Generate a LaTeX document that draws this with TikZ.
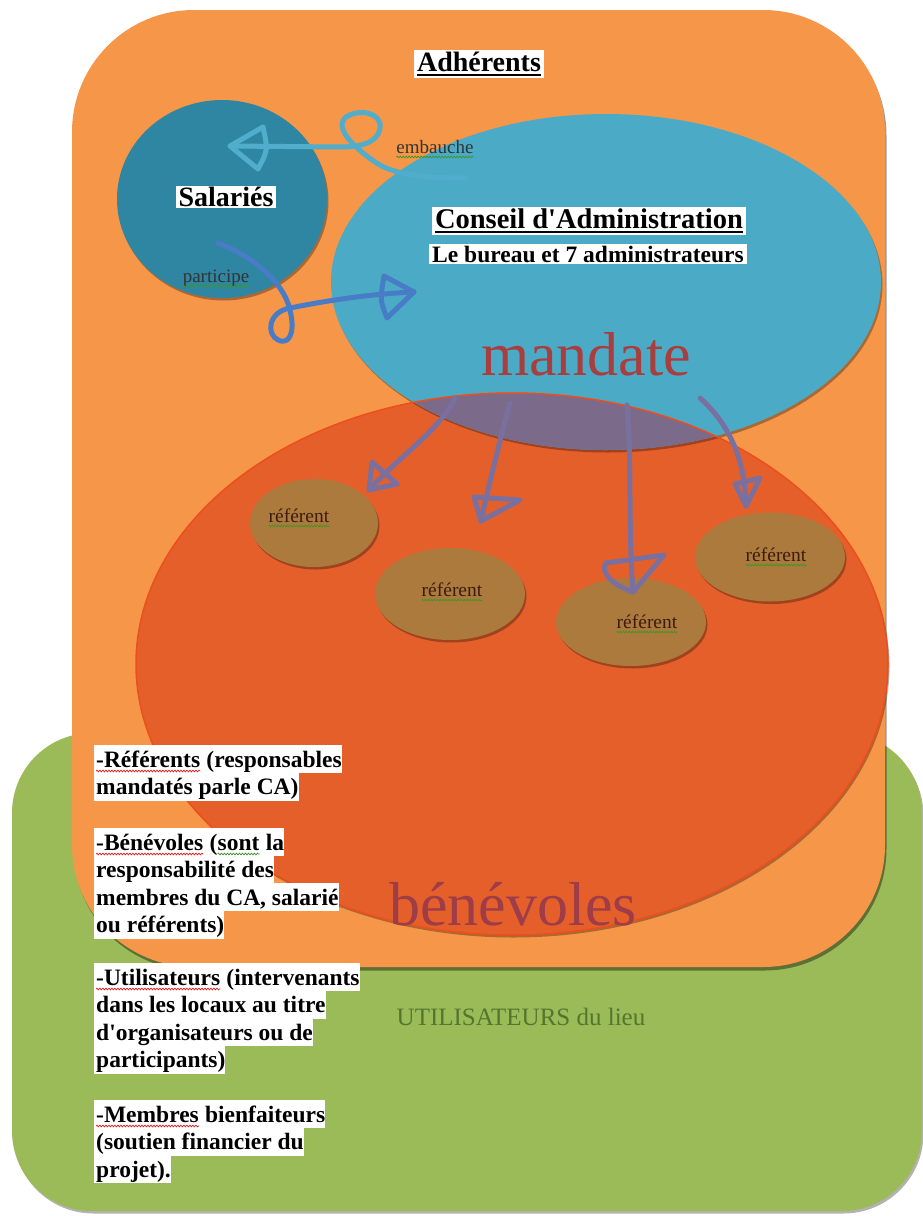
\documentclass[tikz,border=0pt]{standalone}
\usepackage{fontspec}
\setmainfont{Liberation Serif}[Ligatures=TeXOff]
\usetikzlibrary{shapes.geometric,shadows,decorations.pathmorphing}
\definecolor{orangebg}{RGB}{246,150,72}
\definecolor{greenbg}{RGB}{155,187,89}
\definecolor{cablue}{RGB}{75,171,199}
\definecolor{salteal}{RGB}{46,134,162}
\definecolor{benred}{RGB}{229,95,42}
\definecolor{benedge}{RGB}{236,78,28}
\definecolor{overlapc}{RGB}{124,106,138}
\definecolor{refbrown}{RGB}{172,122,60}
\definecolor{mandarrow}{RGB}{122,112,160}
\definecolor{embarrow}{RGB}{80,174,204}
\definecolor{partarrow}{RGB}{72,124,198}
\definecolor{mandtext}{RGB}{168,62,62}
\definecolor{bentext}{RGB}{158,60,72}
\definecolor{usertext}{RGB}{84,118,44}
\definecolor{reftext}{RGB}{60,28,15}
\definecolor{spellred}{RGB}{225,30,30}
\definecolor{spellgreen}{RGB}{60,150,40}
\newsavebox\myulbox
\newcommand\thickul[1]{\sbox\myulbox{#1}\rlap{\usebox\myulbox}\rule[-5pt]{\wd\myulbox}{2.6pt}}
\begin{document}
\begin{tikzpicture}[x=1pt,y=-1pt,
  every node/.style={inner sep=0pt},
  softshadow/.style={drop shadow={shadow xshift=1.5pt,shadow yshift=-2.5pt,opacity=0.3,fill=black}},
  whitebox/.style={fill=white,text=black,inner xsep=3pt,inner ysep=1.5pt},
  listline/.style={fill=white,anchor=base west,inner xsep=0pt,text height=22pt,text depth=6pt,font=\fontsize{23.5}{27.5}\selectfont\bfseries},
  refnode/.style={ellipse,fill=refbrown,minimum width=150pt,minimum height=90pt,softshadow},
  reftxt/.style={anchor=base,font=\fontsize{19.5}{22}\selectfont,text=reftext},
  handarrow/.style={line width=5pt,line cap=round,line join=round},
  wave/.style={line width=0.7pt,decorate,decoration={snake,amplitude=0.9pt,segment length=3pt}},
  wavered/.style={wave,draw=spellred},
  wavegreen/.style={wave,draw=spellgreen},
]
\useasboundingbox (0,0) rectangle (923,1216);
\fill[white] (0,0) rectangle (923,1216);

% background panels
\fill[greenbg, rounded corners=80pt, softshadow] (12,733) rectangle (922,1211);
\fill[orangebg, rounded corners=122pt, drop shadow={shadow xshift=1.5pt,shadow yshift=-3.5pt,opacity=0.4,fill=black}] (72,10) rectangle (885,967);

% big ellipses
\node[ellipse, fill=benred, minimum width=752pt, minimum height=542pt, softshadow] (ben) at (512,664) {};
\node[ellipse, fill=cablue, minimum width=550pt, minimum height=336pt, softshadow] (ca) at (606,282) {};
\begin{scope}
  \clip (ben.center) ellipse [x radius=376, y radius=271];
  \fill[overlapc] (ca.center) ellipse [x radius=275, y radius=168];
\end{scope}
\draw[benedge, line width=1.5pt] (ben.center) ellipse [x radius=376, y radius=271];

\node[ellipse, fill=salteal, minimum width=210pt, minimum height=198pt, softshadow] (sal) at (222,199) {};

% referent ellipses
\node[refnode, minimum width=128pt, minimum height=88pt] (ref1) at (314,523) {};
\node[refnode, minimum height=92pt] (ref2) at (450,594) {};
\node[refnode, minimum height=88pt] (ref3) at (631,622) {};
\node[refnode, minimum height=89pt] (ref4) at (770,557) {};

% embauche arrow
\coordinate (embS) at (466,178);
\coordinate (embT) at (230,146);
\draw[handarrow, embarrow] (embS) .. controls (430,178) and (395,176) .. (375,162) .. controls (355,148) and (333,128) .. (346,117) .. controls (360,108) and (382,113) .. (380,128) .. controls (378,143) and (360,147) .. (340,147) -- (embT);
\draw[handarrow, embarrow] (263,127) -- (embT) -- (258,169) .. controls (268,150) .. (263,127);

% participe arrow
\coordinate (partS) at (218,243);
\coordinate (partT) at (414,292);
\draw[handarrow, partarrow] (partS) .. controls (250,255) and (283,280) .. (290,310) .. controls (296,335) and (288,345) .. (278,340) .. controls (266,334) and (268,312) .. (290,308) .. controls (330,300) and (370,294) .. (partT);
\draw[handarrow, partarrow] (384,276) -- (partT) -- (387,318) .. controls (380,300) .. (384,276);

% mandate arrows
\coordinate (mS1) at (455,398);
\coordinate (mT1) at (369,490);
\draw[handarrow, mandarrow] (mS1) .. controls (440,430) and (395,460) .. (mT1);
\draw[handarrow, mandarrow] (372,462) -- (mT1) -- (397,484) -- cycle;
\coordinate (mS2) at (510,403);
\coordinate (mT2) at (481,521);
\draw[handarrow, mandarrow] (mS2) .. controls (500,440) and (490,480) .. (mT2);
\draw[handarrow, mandarrow] (474,497) -- (520,500) -- (mT2) -- cycle;
\coordinate (mS3) at (627,405);
\coordinate (mT3) at (633,592);
\draw[handarrow, mandarrow] (mS3) .. controls (632,460) and (628,530) .. (mT3);
\draw[handarrow, mandarrow] (606,563) -- (664,555) -- (mT3) .. controls (612,585) and (600,572) .. (606,563);
\coordinate (mS4) at (700,398);
\coordinate (mT4) at (746,506);
\draw[handarrow, mandarrow] (mS4) .. controls (730,425) and (745,460) .. (mT4);
\draw[handarrow, mandarrow] (735,484) -- (760,478) -- (mT4) -- cycle;

% labels
\node[whitebox, font=\fontsize{28}{30}\selectfont\bfseries] (adh) at (479,64) {\thickul{Adhérents}};
\node[whitebox, font=\fontsize{28}{30}\selectfont\bfseries] (salt) at (226,197) {Salariés};
\node[whitebox, font=\fontsize{28.5}{30}\selectfont\bfseries] (cat) at (589,221) {\thickul{Conseil d'Administration}};
\node[whitebox, font=\fontsize{23.5}{26}\selectfont\bfseries] (cab) at (588,254) {Le bureau et 7 administrateurs};

\node[anchor=base, font=\fontsize{19}{21}\selectfont, text=black!80] (emb) at (435,153) {embauche};
\node[anchor=base, font=\fontsize{19}{21}\selectfont, text=black!80] (par) at (216,282) {participe};
\draw[wavegreen] ([yshift=-4pt]emb.base west) -- ([yshift=-4pt]emb.base east);
\draw[wavegreen] ([yshift=-4pt]par.base west) -- ([yshift=-4pt]par.base east);

\node[reftxt] (rt1) at (299,522) {référent};
\node[reftxt] (rt2) at (452,596) {référent};
\node[reftxt] (rt3) at (647,628) {référent};
\node[reftxt] (rt4) at (776,561) {référent};
\foreach \r in {rt1,rt2,rt3,rt4}
  \draw[wavegreen] ([yshift=-4pt]\r.base west) -- ([yshift=-4pt]\r.base east);

\node[anchor=base, font=\fontsize{62}{62}\selectfont, text=mandtext] (mand) at (586,375) {mandate};
\node[anchor=base, font=\fontsize{62}{62}\selectfont, text=bentext] (benv) at (513,925) {bénévoles};
\node[anchor=base, font=\fontsize{25}{27}\selectfont, text=usertext] (user) at (521,1025) {UTILISATEURS du lieu};

% list
\node[listline] (l1a) at (94,767) {\hspace{2pt}-Référents};
\node[listline] (l1b) at ([xshift=-1pt]l1a.base east) {\hspace{1pt}~(responsables};
\node[listline] (l2) at (94,794.5) {\hspace{2pt}mandatés parle CA)};
\node[listline] (l3a) at (94,850) {\hspace{2pt}-Bénévoles};
\node[listline] (l3b) at ([xshift=-1pt]l3a.base east) {\hspace{1pt}~(};
\node[listline] (l3c) at ([xshift=-1pt]l3b.base east) {\hspace{1pt}sont};
\node[listline] (l3d) at ([xshift=-1pt]l3c.base east) {\hspace{1pt}~la};
\node[listline] (l4) at (94,877.5) {\hspace{2pt}responsabilité des};
\node[listline] (l5) at (94,905) {\hspace{2pt}membres du CA, salarié};
\node[listline] (l6) at (94,932.5) {\hspace{2pt}ou référents)};
\node[listline] (l7a) at (94,985) {\hspace{2pt}-Utilisateurs};
\node[listline] (l7b) at ([xshift=-1pt]l7a.base east) {\hspace{1pt}~(intervenants};
\node[listline] (l8) at (94,1012.5) {\hspace{2pt}dans les locaux au titre};
\node[listline] (l9) at (94,1040) {\hspace{2pt}d'organisateurs ou de};
\node[listline] (l10) at (94,1067.5) {\hspace{2pt}participants)};
\node[listline] (l11a) at (94,1122) {\hspace{2pt}-Membres};
\node[listline] (l11b) at ([xshift=-1pt]l11a.base east) {\hspace{1pt}~bienfaiteurs};
\node[listline] (l12) at (94,1149.5) {\hspace{2pt}(soutien financier du};
\node[listline] (l13) at (94,1177) {\hspace{2pt}projet).};
\foreach \w in {l1a,l3a,l7a,l11a}
  \draw[wavered] ([xshift=2pt,yshift=-4pt]\w.base west) -- ([yshift=-4pt]\w.base east);
\draw[wavegreen] ([xshift=1pt,yshift=-4pt]l3c.base west) -- ([yshift=-4pt]l3c.base east);
\end{tikzpicture}
\end{document}
